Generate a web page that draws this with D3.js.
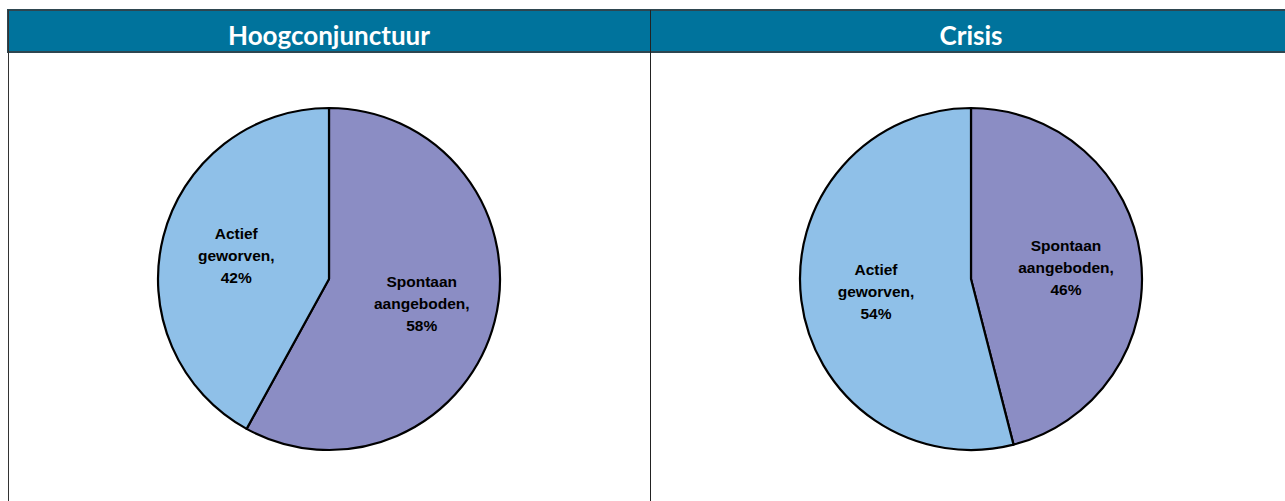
<!DOCTYPE html>
<html>
<head>
  <meta charset="utf-8">
  <style>
    body { margin: 0; background: #fff; }
    svg { display: block; }
  </style>
  <title>Spontaan aangeboden vs actief geworven</title>
</head>
<body>
  <script src="https://cdn.jsdelivr.net/npm/d3@7/dist/d3.min.js"></script>
  <script>
    // data
    const panels = ["Hoogconjunctuur", "Crisis"];
    const categories = ["Spontaan aangeboden", "Actief geworven"];
    const hoogValues = [58, 42];
    const crisisValues = [46, 54];
    const seriesValues = [hoogValues, crisisValues];
    const labelLines = [["Spontaan", "aangeboden,"], ["Actief", "geworven,"]];
    const colors = ["#8b8dc4", "#8fc0e8"];

    // dimensions
    const W = 1285, H = 501;
    const tableLeft = 8, tableTop = 10, headerH = 42;
    const colW = 642;
    const radius = 171;
    const pieCy = 279;

    const svg = d3.select("body").append("svg")
      .attr("width", W)
      .attr("height", H);

    const x = d3.scaleBand().domain(panels).range([tableLeft, tableLeft + colW * 2]).padding(0);

    // header bar
    svg.append("rect")
      .attr("x", tableLeft).attr("y", tableTop)
      .attr("width", W - tableLeft + 2).attr("height", headerH)
      .attr("fill", "#00739c")
      .attr("stroke", "#2e4650").attr("stroke-width", 2);

    // table vertical lines
    svg.append("line")
      .attr("x1", tableLeft + 0.5).attr("x2", tableLeft + 0.5)
      .attr("y1", tableTop).attr("y2", H)
      .attr("stroke", "#333").attr("stroke-width", 1);
    svg.append("line")
      .attr("x1", x("Crisis") + 0.5).attr("x2", x("Crisis") + 0.5)
      .attr("y1", tableTop).attr("y2", H)
      .attr("stroke", "#222").attr("stroke-width", 1);

    // header titles
    svg.selectAll("text.head")
      .data(panels)
      .enter().append("text")
      .attr("class", "head")
      .attr("x", d => x(d) + x.bandwidth() / 2)
      .attr("y", tableTop + 35)
      .attr("text-anchor", "middle")
      .attr("fill", "#fff")
      .style("font-family", "Lato, 'Open Sans', sans-serif")
      .style("font-weight", "bold")
      .style("font-size", "26px")
      .text(d => d);

    const pie = d3.pie().sort(null).value(d => d);
    const arc = d3.arc().innerRadius(0).outerRadius(radius);
    const labelArc = d3.arc().innerRadius(radius * 0.56).outerRadius(radius * 0.56);

    panels.forEach(function (p, i) {
      const g = svg.append("g")
        .attr("transform", "translate(" + (x(p) + x.bandwidth() / 2) + "," + pieCy + ")");

      const arcs = pie(seriesValues[i]);

      g.selectAll("path")
        .data(arcs)
        .enter().append("path")
        .attr("d", arc)
        .attr("fill", (d, j) => colors[j])
        .attr("stroke", "#000")
        .attr("stroke-width", 2.2)
        .attr("stroke-linejoin", "round");

      const labels = g.selectAll("text")
        .data(arcs)
        .enter().append("text")
        .attr("transform", d => "translate(" + labelArc.centroid(d) + ")")
        .attr("text-anchor", "middle")
        .style("font-family", "Arial, 'Liberation Sans', sans-serif")
        .style("font-weight", "bold")
        .style("font-size", "15.5px")
        .attr("fill", "#000");

      labels.each(function (d, j) {
        const lines = labelLines[j].concat([d.data + "%"]);
        const t = d3.select(this);
        lines.forEach(function (l, k) {
          t.append("tspan")
            .attr("x", 0)
            .attr("y", (k - 1) * 22 + 6)
            .text(l);
        });
      });
    });
  </script>
</body>
</html>
